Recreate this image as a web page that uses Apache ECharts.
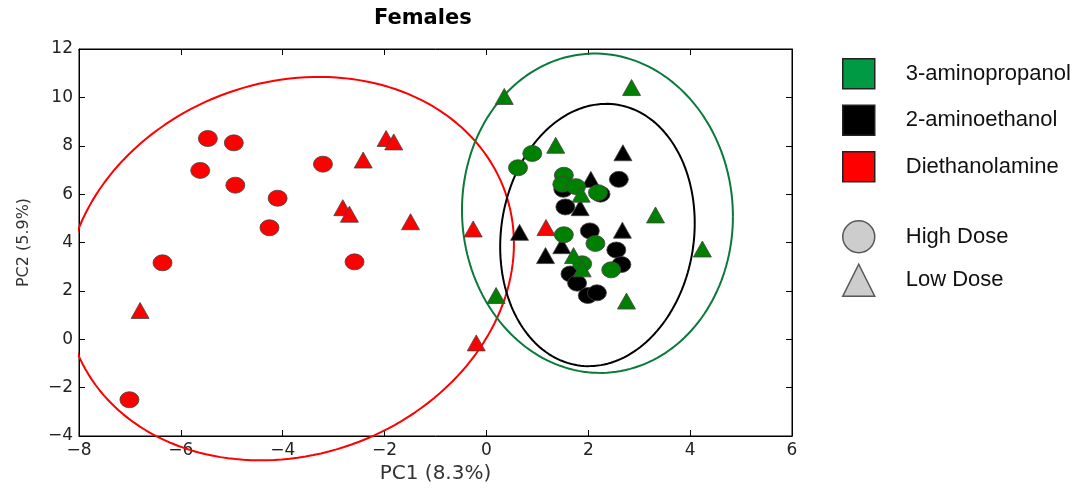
<!DOCTYPE html>
<html style="height: 100%;">
  <head>
    <meta charset="utf-8" />
    <script src="https://cdn.jsdelivr.net/npm/echarts@6/dist/echarts.min.js"></script>
  </head>
  <body style="height: 100%; margin: 0; background: #fff;">
    <div id="container" style="width: 1086px; height: 490px;"></div>
    <script type="text/javascript">
      // group names (legend order)
      var groups = ["3-aminopropanol", "2-aminoethanol", "Diethanolamine"];
      var doses = ["High Dose", "Low Dose"];

      // [PC1, PC2] scores
      var propanolHigh = [
        [0.9, 7.68], [0.62, 7.09], [1.52, 6.78], [1.49, 6.41], [1.76, 6.31],
        [2.19, 6.06], [1.52, 4.32], [2.14, 3.96], [1.88, 3.12], [2.45, 2.87]
      ];
      var propanolLow = [
        [0.35, 10.04], [2.85, 10.41], [1.36, 8.02], [3.32, 5.14], [4.24, 3.73],
        [0.19, 1.81], [2.75, 1.58], [1.86, 6.0], [1.71, 3.46], [1.88, 2.91]
      ];
      var ethanolHigh = [
        [2.6, 6.61], [1.55, 5.47], [2.03, 4.48], [2.55, 3.69], [2.65, 3.09],
        [1.65, 2.7], [1.78, 2.32], [1.99, 1.81], [2.17, 1.92], [1.51, 6.2],
        [2.24, 6.0]
      ];
      var ethanolLow = [
        [2.68, 7.71], [2.05, 6.61], [0.65, 4.42], [2.67, 4.51], [1.16, 3.46],
        [1.48, 3.87], [1.84, 5.44]
      ];
      var diethHigh = [
        [-5.47, 8.3], [-4.96, 8.12], [-5.62, 6.98], [-4.93, 6.37], [-4.1, 5.83],
        [-3.21, 7.24], [-4.26, 4.61], [-6.36, 3.16], [-2.59, 3.2], [-7.01, -2.5]
      ];
      var diethLow = [
        [-6.8, 1.19], [-1.97, 8.3], [-1.82, 8.16], [-2.42, 7.41], [-2.82, 5.44],
        [-2.69, 5.17], [-1.49, 4.86], [-0.26, 4.56], [-0.2, -0.15], [1.17, 4.62]
      ];

      // ellipse: [centre x, centre y, half width, half height, tilt]
      var ellipseRed = [-3.86, 2.92, 4.4, 7.86, 1.03];
      var ellipseGreen = [2.18, 5.21, 2.66, 6.6, -0.13];
      var ellipseBlack = [2.18, 4.31, 1.91, 5.4, 0.49];

      var xTicks = [-8, -6, -4, -2, 0, 2, 4, 6];
      var yTicks = [-4, -2, 0, 2, 4, 6, 8, 10, 12];

      var colGreen = "#008000";
      var colBlack = "#000000";
      var colRed = "#ff0000";

      function ellipsePoints(e) {
        var pts = [];
        for (var i = 0; i <= 180; i++) {
          var t = (i / 180) * Math.PI * 2;
          pts.push([e[0] + e[2] * Math.cos(t), e[1] + e[3] * Math.sin(t) + e[4] * Math.cos(t)]);
        }
        return pts;
      }

      function ellipseSeries(e, color) {
        return {
          type: "line",
          data: ellipsePoints(e),
          showSymbol: false,
          clip: false,
          silent: true,
          z: 1,
          lineStyle: { color: color, width: 2 },
        };
      }

      function groupSeries(name, high, low, color) {
        var data = high.map(function (p) { return [p[0], p[1], 1]; })
          .concat(low.map(function (p) { return [p[0], p[1], 0]; }));
        return {
          name: name,
          type: "scatter",
          data: data,
          z: 3,
          symbol: function (v) { return v[2] ? "circle" : "triangle"; },
          symbolSize: function (v) { return v[2] ? [19, 16] : [18, 16]; },
          itemStyle: { color: color, borderColor: "#444", borderWidth: 0.8, opacity: 1 },
        };
      }

      var tickLabel = {
        color: "#222",
        fontSize: 17,
        fontFamily: "DejaVu Sans",
        formatter: function (v) { return v < 0 ? "\u2212" + Math.abs(v) : "" + v; },
      };

      var frameLine = { onZero: false, lineStyle: { color: "#000" } };
      var innerTick = { show: true, inside: true, length: 6, lineStyle: { color: "#000" } };
      var legendText = { fontSize: 22, fontFamily: "Liberation Sans", color: "#111", padding: [0, 0, 0, 26] };

      var myChart = echarts.init(document.getElementById("container"));
      var option = {
        animation: false,
        title: {
          text: "Females",
          left: 369,
          top: 3,
          textStyle: { fontSize: 21, fontWeight: "bold", fontFamily: "DejaVu Sans", color: "#000" },
        },
        grid: { left: 79, right: 294, top: 49, bottom: 54, show: true, borderColor: "#000", borderWidth: 1 },
        legend: [
          {
            left: 837,
            top: 53,
            orient: "vertical",
            itemWidth: 32,
            itemHeight: 30,
            itemGap: 15,
            selectedMode: false,
            textStyle: legendText,
            data: [
              { name: groups[0], icon: "rect", itemStyle: { color: "#009a44", borderColor: "#222", borderWidth: 1.5 } },
              { name: groups[1], icon: "rect", itemStyle: { color: "#000", borderColor: "#222", borderWidth: 1.5 } },
              { name: groups[2], icon: "rect", itemStyle: { color: "#ff0000", borderColor: "#222", borderWidth: 1.5 } },
            ],
          },
          {
            left: 837,
            top: 215,
            orient: "vertical",
            itemWidth: 32,
            itemHeight: 32,
            itemGap: 10,
            selectedMode: false,
            textStyle: legendText,
            data: [
              { name: doses[0], icon: "circle", itemStyle: { color: "#c0c0c0", borderColor: "#333", borderWidth: 1.5 } },
              { name: doses[1], icon: "triangle", itemStyle: { color: "#c0c0c0", borderColor: "#333", borderWidth: 1.5 } },
            ],
          },
        ],
        xAxis: [
          {
            type: "value",
            min: xTicks[0],
            max: xTicks[xTicks.length - 1],
            interval: 2,
            name: "PC1 (8.3%)",
            nameLocation: "middle",
            nameGap: 28,
            nameTextStyle: { fontSize: 20, fontFamily: "DejaVu Sans", color: "#333" },
            axisLine: frameLine,
            axisTick: innerTick,
            axisLabel: Object.assign({ margin: 6 }, tickLabel),
            splitLine: { show: false },
          },
          {
            type: "value",
            position: "top",
            min: xTicks[0],
            max: xTicks[xTicks.length - 1],
            interval: 2,
            axisLine: frameLine,
            axisTick: innerTick,
            axisLabel: { show: false },
            splitLine: { show: false },
          },
        ],
        yAxis: [
          {
            type: "value",
            min: yTicks[0],
            max: yTicks[yTicks.length - 1],
            interval: 2,
            name: "PC2 (5.9%)",
            nameLocation: "middle",
            nameGap: 47,
            nameTextStyle: { fontSize: 16, fontFamily: "DejaVu Sans", color: "#333" },
            axisLine: Object.assign({ show: true }, frameLine),
            axisTick: innerTick,
            axisLabel: Object.assign({ margin: 6 }, tickLabel),
            splitLine: { show: false },
          },
          {
            type: "value",
            position: "right",
            min: yTicks[0],
            max: yTicks[yTicks.length - 1],
            interval: 2,
            axisLine: Object.assign({ show: true }, frameLine),
            axisTick: innerTick,
            axisLabel: { show: false },
            splitLine: { show: false },
          },
        ],
        series: [
          ellipseSeries(ellipseRed, colRed),
          ellipseSeries(ellipseGreen, "#0a7a3a"),
          ellipseSeries(ellipseBlack, colBlack),
          groupSeries(groups[2], diethHigh, diethLow, colRed),
          groupSeries(groups[1], ethanolHigh, ethanolLow, colBlack),
          groupSeries(groups[0], propanolHigh, propanolLow, colGreen),
          { name: doses[0], type: "scatter", data: [] },
          { name: doses[1], type: "scatter", data: [] },
        ],
      };
      myChart.setOption(option);
    </script>
  </body>
</html>
